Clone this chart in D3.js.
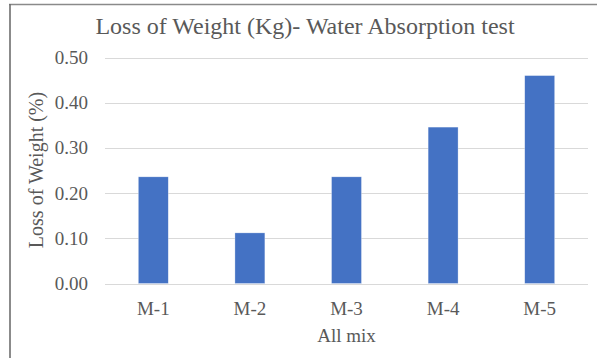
<!DOCTYPE html>
<html>
<head>
<meta charset="utf-8">
<script src="https://cdn.jsdelivr.net/npm/d3@7"></script>
<style>
  html, body { margin: 0; padding: 0; background: #fff; }
  svg { display: block; }
  text { font-family: "Liberation Serif", "Times New Roman", serif; fill: #595959; }
</style>
</head>
<body>
<script>
// Loss of weight per mix after the water absorption test
const mixes = ["M-1", "M-2", "M-3", "M-4", "M-5"];
const lossValues = [0.236, 0.112, 0.236, 0.346, 0.460];
const yTicks = [0.0, 0.1, 0.2, 0.3, 0.4, 0.5];

const titleText = "Loss of Weight (Kg)- Water Absorption test";
const xTitle = "All mix";
const yTitle = "Loss of Weight (%)";

const W = 597, H = 358;
const plot = { left: 105, right: 588, top: 57.5, bottom: 283.5 };

const svg = d3.select("body").append("svg")
  .attr("width", W).attr("height", H);

// Chart frame (top and left edges)
svg.append("line")
  .attr("x1", 9).attr("x2", W).attr("y1", 4.5).attr("y2", 4.5)
  .attr("stroke", "#8a8a8a").attr("stroke-width", 1.6);
svg.append("line")
  .attr("x1", 10).attr("x2", 10).attr("y1", 4).attr("y2", H)
  .attr("stroke", "#6e6e6e").attr("stroke-width", 1.6);

const x = d3.scaleBand()
  .domain(mixes)
  .range([plot.left, plot.right])
  .paddingInner(0.69)
  .paddingOuter(0.345);

const y = d3.scaleLinear()
  .domain([0, 0.5])
  .range([plot.bottom, plot.top]);

// Horizontal gridlines
svg.append("g")
  .selectAll("line")
  .data(yTicks)
  .join("line")
  .attr("x1", plot.left).attr("x2", plot.right)
  .attr("y1", d => Math.round(y(d)) + 0.5)
  .attr("y2", d => Math.round(y(d)) + 0.5)
  .attr("stroke", "#d9d9d9").attr("stroke-width", 1);

// Y axis labels
const yAxis = d3.axisLeft(y)
  .tickValues(yTicks)
  .tickFormat(d3.format(".2f"))
  .tickSize(0)
  .tickPadding(17);
const gy = svg.append("g")
  .attr("transform", `translate(${plot.left},0)`)
  .call(yAxis);
gy.select(".domain").remove();
gy.selectAll("text")
  .style("font-family", "'Liberation Serif', 'Times New Roman', serif")
  .style("font-size", "19px")
  .attr("fill", "#595959");

// Bars
svg.append("g")
  .selectAll("rect")
  .data(mixes.map((m, i) => ({ m, v: lossValues[i] })))
  .join("rect")
  .attr("x", d => x(d.m))
  .attr("width", x.bandwidth())
  .attr("y", d => y(d.v))
  .attr("height", d => y(0) - y(d.v))
  .attr("fill", "#4472c4")
  .attr("stroke", "#ffffff")
  .attr("stroke-opacity", 0.5)
  .attr("stroke-width", 0.6);

// X axis labels
const xAxis = d3.axisBottom(x).tickSize(0).tickPadding(18);
const gx = svg.append("g")
  .attr("transform", `translate(0,${plot.bottom})`)
  .call(xAxis);
gx.select(".domain").remove();
gx.selectAll("text")
  .style("font-family", "'Liberation Serif', 'Times New Roman', serif")
  .style("font-size", "19px")
  .attr("fill", "#595959");

// Titles
svg.append("text")
  .attr("x", 305).attr("y", 34)
  .attr("text-anchor", "middle")
  .style("font-size", "24px")
  .text(titleText);

svg.append("text")
  .attr("x", (plot.left + plot.right) / 2).attr("y", 342)
  .attr("text-anchor", "middle")
  .style("font-size", "19px")
  .text(xTitle);

svg.append("text")
  .attr("transform", `translate(42.5,170) rotate(-90)`)
  .attr("text-anchor", "middle")
  .style("font-size", "20px")
  .text(yTitle);
</script>
</body>
</html>
